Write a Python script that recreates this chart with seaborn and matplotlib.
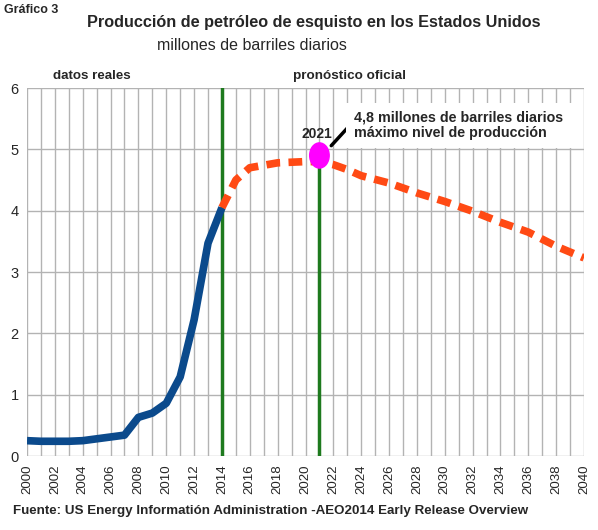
import numpy as np
import pandas as pd
import matplotlib
matplotlib.use("Agg")
import matplotlib.pyplot as plt
from matplotlib.patches import Ellipse
import seaborn as sns

# datos reales
hist_years = [2000, 2001, 2002, 2003, 2004, 2005, 2006, 2007, 2008, 2009, 2010, 2011, 2012, 2013, 2014]
hist_vals = [0.25, 0.24, 0.24, 0.24, 0.25, 0.28, 0.31, 0.34, 0.63, 0.70, 0.86, 1.29, 2.22, 3.47, 4.05]

# pronostico oficial
fc_years = [2014, 2015, 2016, 2017, 2018, 2019, 2020, 2021, 2022, 2023, 2024, 2026, 2028,
            2030, 2032, 2034, 2036, 2038, 2040]
fc_vals = [4.05, 4.50, 4.70, 4.74, 4.78, 4.79, 4.80, 4.80, 4.75, 4.67, 4.57, 4.45, 4.29,
           4.15, 3.99, 3.81, 3.65, 3.42, 3.23]

peak_year = 2021
peak_val = 4.8
split_year = 2014

hist = pd.DataFrame({"year": hist_years, "val": hist_vals})
fc = pd.DataFrame({"year": fc_years, "val": fc_vals})

sns.set_style("white")
plt.rcParams["font.family"] = ["Liberation Sans", "DejaVu Sans"]

fig = plt.figure(figsize=(5.98, 5.3), dpi=100)
ax = fig.add_axes([27 / 598, 1 - 456 / 530, 557 / 598, 368 / 530])

ax.set_xlim(2000, 2040)
ax.set_ylim(0, 6)
ax.set_xticks(range(2000, 2041, 2))
ax.set_xticks(range(2000, 2041, 1), minor=True)
ax.set_yticks(range(0, 7))
ax.grid(True, which="both", axis="x", color="#b3b3b3", lw=1)
ax.grid(True, which="major", axis="y", color="#b3b3b3", lw=1)
for s in ax.spines.values():
    s.set_visible(False)
ax.tick_params(axis="x", which="both", length=4, color="#b3b3b3", labelsize=9.5,
               labelrotation=90, pad=2)
ax.tick_params(axis="y", length=4, color="#b3b3b3", labelsize=10.5, pad=2)

ax.axvline(split_year, color="#1e7a1e", lw=2.5, zorder=2)
ax.plot([peak_year, peak_year], [0, peak_val], color="#1e7a1e", lw=2.5, zorder=2)

sns.lineplot(data=hist, x="year", y="val", ax=ax, color="#0b4a8c", lw=5.5,
             solid_capstyle="butt", zorder=3)
sns.lineplot(data=fc, x="year", y="val", ax=ax, color="#ff4a14", lw=5.5,
             dashes=False, zorder=3)
ax.lines[-1].set_dashes([1.8, 1.1])
ax.set_xlabel("")
ax.set_ylabel("")

ax.add_patch(Ellipse((peak_year, 4.9), 1.4, 0.41, color="#ff00ff", zorder=5))
ax.annotate("", xy=(2021.85, 5.06), xytext=(2023.3, 5.42),
            arrowprops=dict(arrowstyle="-", color="black", lw=2.5,
                            shrinkA=0, shrinkB=0), zorder=6)
ax.text(2020.85, 5.14, "2021", ha="center", va="bottom", fontsize=10,
        fontweight="bold", zorder=6)
ax.text(2023.5, 5.39, "4,8 millones de barriles diarios\nmáximo nivel de producción",
        ha="left", va="center", fontsize=10.3, fontweight="bold", linespacing=1.1,
        bbox=dict(facecolor="white", edgecolor="none", pad=6), zorder=6)

fig.text(53 / 598, 1 - 76 / 530, "datos reales", fontsize=9.6, fontweight="bold",
         va="center")
fig.text(293 / 598, 1 - 76 / 530, "pronóstico oficial", fontsize=9.7, fontweight="bold",
         va="center")

fig.text(4 / 598, 1 - 10 / 530, "Gráfico 3", fontsize=9, fontweight="bold", va="center")
fig.text(314 / 598, 1 - 23 / 530, "Producción de petróleo de esquisto en los Estados Unidos",
         fontsize=11.7, fontweight="bold", ha="center", va="center")
fig.text(252 / 598, 1 - 45 / 530, "millones de barriles diarios", fontsize=11.5,
         ha="center", va="center")
fig.text(13 / 598, 1 - 511 / 530,
         "Fuente: US Energy Informatión Administration -AEO2014 Early Release Overview",
         fontsize=9.6, fontweight="bold", va="center")

fig.savefig("out.png", dpi=100)
